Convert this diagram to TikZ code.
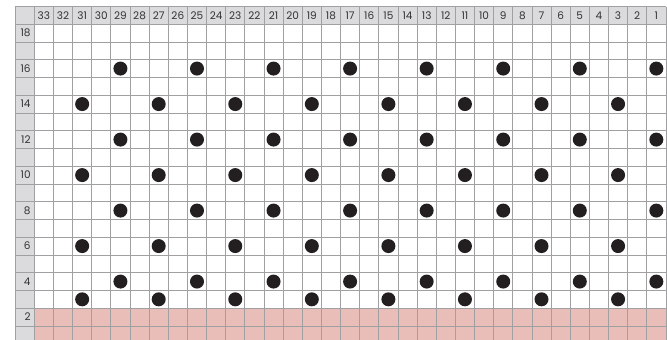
\documentclass[tikz,border=0pt]{standalone}
\usepackage{fontspec}
\setmainfont{Poppins}
\usepackage{tikz}
\definecolor{gridline}{RGB}{160, 160, 162}
\definecolor{labelgray}{RGB}{219, 219, 221}
\definecolor{lightpink}{RGB}{233, 190, 185}
\definecolor{dotblack}{RGB}{35, 31, 32}

\begin{document}
\begin{tikzpicture}[x=1pt, y=-1pt, font=\fontsize{10.5}{12}\selectfont]

  \pgfmathsetmacro{\cw}{19.14};
  \pgfmathsetmacro{\rh}{17.75};
  \pgfmathsetmacro{\xl}{15};
  \pgfmathsetmacro{\xa}{34.3};
  \pgfmathsetmacro{\yt}{6.7};
  \pgfmathsetmacro{\ya}{24.2};
  \pgfmathsetmacro{\xr}{\xa + 33 * \cw};
  \pgfmathsetmacro{\yb}{\ya + 18 * \rh};

  \useasboundingbox (0, 0) rectangle (667, 340);
  \clip (0, 0) rectangle (667, 340);

  % shaded bands
  \fill[labelgray] (\xl, \yt) rectangle (\xr, \ya);
  \fill[labelgray] (\xl, \ya) rectangle (\xa, \yb);
  \fill[lightpink] (\xa, {\ya + 16 * \rh}) rectangle (\xr, \yb);

  % grid
  \foreach \i in {0, ..., 33}
    \draw[gridline, line width=0.8] ({\xa + \i * \cw}, \yt) -- ({\xa + \i * \cw}, \yb);
  \draw[gridline, line width=0.8] (\xl, \yt) -- (\xl, \yb);
  \draw[gridline, line width=0.8] (\xl, \yt) -- (\xr, \yt);
  \foreach \j in {0, ..., 18}
    \draw[gridline, line width=0.8] (\xl, {\ya + \j * \rh}) -- (\xr, {\ya + \j * \rh});

  % column numbers
  \foreach \c in {1, ..., 33}
    \node[text=black!80] (col\c) at ({\xa + (33.5 - \c) * \cw}, {0.5 * (\yt + \ya)}) {\c};

  % row numbers
  \foreach \r in {2, 4, ..., 18}
    \node[anchor=east, text=black!80, inner sep=0] (row\r) at ({\xa - 3.5}, {\ya + (18.5 - \r) * \rh}) {\r};

  % stitches
  \foreach \r in {4, 8, 12, 16}
    \foreach \c in {1, 5, ..., 29}
      \fill[dotblack] ({\xa + (33.5 - \c) * \cw}, {\ya + (18.5 - \r) * \rh}) circle (7);
  \foreach \r in {3, 6, 10, 14}
    \foreach \c in {3, 7, ..., 31}
      \fill[dotblack] ({\xa + (33.5 - \c) * \cw}, {\ya + (18.5 - \r) * \rh}) circle (7);

\end{tikzpicture}
\end{document}
